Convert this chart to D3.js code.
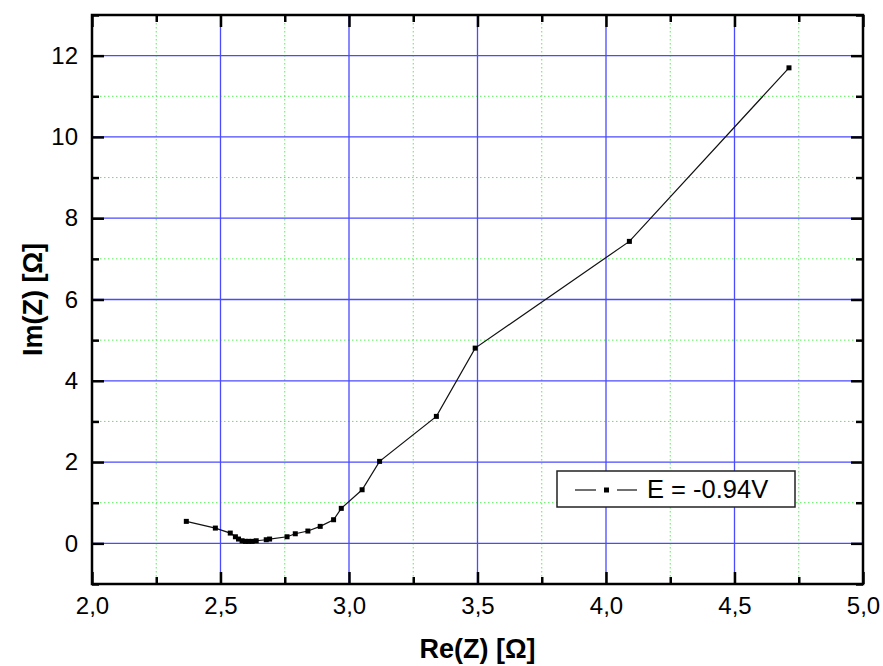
<!DOCTYPE html>
<html>
<head>
<meta charset="utf-8">
<script src="https://cdn.jsdelivr.net/npm/d3@7"></script>
<style>
  html, body { margin: 0; padding: 0; background: #fff; }
  svg { display: block; font-family: "Liberation Sans", Arial, sans-serif; }
</style>
</head>
<body>
<svg id="chart" width="883" height="666"></svg>
<script>
// ---- data ----
const reZ = [2.367, 2.480, 2.538, 2.558, 2.570, 2.584, 2.597, 2.609, 2.623, 2.639, 2.678, 2.691,
             2.759, 2.791, 2.840, 2.888, 2.940, 2.970, 3.051, 3.119, 3.340, 3.491, 4.091, 4.712];
const imZ = [0.541, 0.376, 0.253, 0.162, 0.106, 0.064, 0.049, 0.049, 0.049, 0.064, 0.089, 0.106,
             0.162, 0.236, 0.303, 0.418, 0.581, 0.861, 1.319, 2.017, 3.124, 4.804, 7.43, 11.70];
const xMajorTicks = [2.0, 2.5, 3.0, 3.5, 4.0, 4.5, 5.0];
const xMinorTicks = [2.25, 2.75, 3.25, 3.75, 4.25, 4.75];
const yMajorTicks = [0, 2, 4, 6, 8, 10, 12];
const yMinorTicks = [-1, 1, 3, 5, 7, 9, 11, 13];
const xDomain = [2.0, 5.0];
const yDomain = [-1, 13];
const seriesLabel = "E = -0.94V";
const xTitle = "Re(Z) [Ω]";
const yTitle = "Im(Z) [Ω]";

// ---- layout ----
const L = 92, R = 863, T = 15, B = 584;
const svg = d3.select("#chart");
const x = d3.scaleLinear().domain(xDomain).range([L, R]);
const y = d3.scaleLinear().domain(yDomain).range([B, T]);

// grid
const grid = svg.append("g");
grid.selectAll("line.mvx").data(xMinorTicks).join("line")
  .attr("x1", d => x(d)).attr("x2", d => x(d)).attr("y1", T).attr("y2", B)
  .attr("stroke", "#55ee55").attr("stroke-width", 1).attr("stroke-dasharray", "1.5,2.5");
grid.selectAll("line.mvy").data(yMinorTicks.filter(d => d > yDomain[0] && d < yDomain[1])).join("line")
  .attr("x1", L).attr("x2", R).attr("y1", d => y(d)).attr("y2", d => y(d))
  .attr("stroke", "#55ee55").attr("stroke-width", 1).attr("stroke-dasharray", "1.5,2.5");
grid.selectAll("line.Mx").data(xMajorTicks.filter(d => d > xDomain[0] && d < xDomain[1])).join("line")
  .attr("x1", d => x(d)).attr("x2", d => x(d)).attr("y1", T).attr("y2", B)
  .attr("stroke", "#4a4aff").attr("stroke-width", 1.3);
grid.selectAll("line.My").data(yMajorTicks).join("line")
  .attr("x1", L).attr("x2", R).attr("y1", d => y(d)).attr("y2", d => y(d))
  .attr("stroke", "#4a4aff").attr("stroke-width", 1.3);

// axes
const fmtX = d => d3.format(".1f")(d).replace(".", ",");
function styleAxis(g) {
  g.select(".domain").remove();
  g.selectAll(".tick line").attr("stroke", "#000").attr("stroke-width", 2.5);
  g.selectAll(".tick text").attr("fill", "#000").style("font-size", "24px")
    .style("font-family", "'Liberation Sans', Arial, sans-serif");
}
svg.append("g").attr("transform", `translate(0,${B})`)
  .call(d3.axisBottom(x).tickValues(xMajorTicks).tickSize(-12).tickPadding(13).tickFormat(fmtX)).call(styleAxis);
svg.append("g").attr("transform", `translate(0,${B})`)
  .call(d3.axisBottom(x).tickValues(xMinorTicks).tickSize(-7).tickFormat("")).call(styleAxis);
svg.append("g").attr("transform", `translate(0,${T})`)
  .call(d3.axisTop(x).tickValues(xMajorTicks).tickSize(-12).tickFormat("")).call(styleAxis);
svg.append("g").attr("transform", `translate(0,${T})`)
  .call(d3.axisTop(x).tickValues(xMinorTicks).tickSize(-7).tickFormat("")).call(styleAxis);
svg.append("g").attr("transform", `translate(${L},0)`)
  .call(d3.axisLeft(y).tickValues(yMajorTicks).tickSize(-12).tickPadding(14).tickFormat(d3.format("d"))).call(styleAxis);
svg.append("g").attr("transform", `translate(${L},0)`)
  .call(d3.axisLeft(y).tickValues(yMinorTicks).tickSize(-7).tickFormat("")).call(styleAxis);
svg.append("g").attr("transform", `translate(${R},0)`)
  .call(d3.axisRight(y).tickValues(yMajorTicks).tickSize(-12).tickFormat("")).call(styleAxis);
svg.append("g").attr("transform", `translate(${R},0)`)
  .call(d3.axisRight(y).tickValues(yMinorTicks).tickSize(-7).tickFormat("")).call(styleAxis);

// frame
svg.append("rect").attr("x", L).attr("y", T).attr("width", R - L).attr("height", B - T)
  .attr("fill", "none").attr("stroke", "#000").attr("stroke-width", 2.5);

// series
const pts = reZ.map((d, i) => [d, imZ[i]]);
svg.append("path").datum(pts)
  .attr("d", d3.line().x(d => x(d[0])).y(d => y(d[1])))
  .attr("fill", "none").attr("stroke", "#111").attr("stroke-width", 1.2);
svg.selectAll("rect.pt").data(pts).join("rect").attr("class", "pt")
  .attr("x", d => x(d[0]) - 2.5).attr("y", d => y(d[1]) - 2.5)
  .attr("width", 5).attr("height", 5).attr("fill", "#000");

// legend
const lg = svg.append("g");
lg.append("rect").attr("x", 557).attr("y", 471).attr("width", 238).attr("height", 36)
  .attr("fill", "#fff").attr("stroke", "#222").attr("stroke-width", 1.5);
lg.append("line").attr("x1", 575).attr("x2", 596).attr("y1", 490).attr("y2", 490)
  .attr("stroke", "#111").attr("stroke-width", 1.2);
lg.append("line").attr("x1", 617).attr("x2", 637).attr("y1", 490).attr("y2", 490)
  .attr("stroke", "#111").attr("stroke-width", 1.2);
lg.append("rect").attr("x", 604).attr("y", 487.5).attr("width", 5).attr("height", 5).attr("fill", "#000");
lg.append("text").attr("x", 647).attr("y", 498).text(seriesLabel)
  .style("font-size", "25.5px").attr("fill", "#000");

// titles
svg.append("text").attr("x", (L + R) / 2).attr("y", 658).attr("text-anchor", "middle")
  .style("font-size", "27px").style("font-weight", "bold").text(xTitle);
svg.append("text").attr("transform", `translate(42,${(T + B) / 2}) rotate(-90)`)
  .attr("text-anchor", "middle").style("font-size", "27px").style("font-weight", "bold").text(yTitle);
</script>
</body>
</html>
